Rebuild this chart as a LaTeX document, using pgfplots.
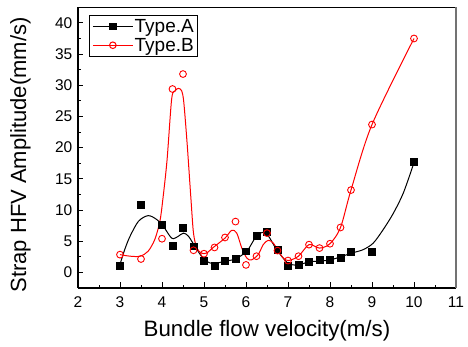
\documentclass[border=0pt]{standalone}
\usepackage{fontspec}
\setmainfont{Liberation Sans}
\usepackage{pgfplots}
\pgfplotsset{compat=1.18}
\begin{document}
\begin{tikzpicture}
\begin{axis}[
  scale only axis,
  width=378bp, height=280.7bp,
  xmin=2, xmax=11, ymin=-2.5, ymax=42.5,
  xtick={2,3,...,11}, ytick={0,5,...,40},
  minor tick num=1,
  axis lines*=left,
  axis line style={line width=1.3bp, black},
  tick align=inside,
  major tick length=5.5bp, minor tick length=3bp,
  every tick/.style={black, line width=0.9bp},
  /pgf/number format/assume math mode=true,
  tick label style={font=\fontsize{15.5bp}{18bp}\selectfont, inner sep=0pt},
  xticklabel style={anchor=north, yshift=-8.5bp},
  yticklabel style={anchor=east, xshift=-5.5bp},
  xlabel={Bundle flow velocity(m/s)},
  ylabel={Strap HFV Amplitude(mm/s)},
  xlabel style={font=\fontsize{22.3bp}{24bp}\selectfont, at={(axis description cs:0.5,-0.1735)}, anchor=base, inner sep=0pt},
  ylabel style={font=\fontsize{22bp}{24bp}\selectfont, at={(axis description cs:-0.152,0.474)}, anchor=center, inner sep=0pt, rotate=0},
  legend image code/.code={\draw[mark repeat=2,mark phase=2] plot coordinates {(0bp,0bp)(20bp,0bp)(40bp,0bp)};},
  legend style={at={(rel axis cs:0.030,0.9726)}, anchor=north west, draw=black, line width=1bp,
    font=\fontsize{19bp}{22bp}\selectfont, inner xsep=2.5bp, inner ysep=2.5bp,
    nodes={inner sep=1.3bp}, row sep=1.5bp},
  legend cell align=left,
  after end axis/.code={
    \draw[black, line width=0.9bp] (rel axis cs:0,1) -- (rel axis cs:1,1);
    \draw[black!55, line width=1.6bp] (rel axis cs:1,0) -- (rel axis cs:1,1);
  },
]
\addlegendimage{black, line width=1bp, mark=square*, mark size=3.3bp, mark options={solid, fill=black}}
\addlegendentry{Type.A}
\addlegendimage{red, line width=1bp, mark=o, mark size=3.3bp, mark options={solid, fill=white}}
\addlegendentry{Type.B}

% Type.A fitted curve (traced)
\addplot[black, line width=1bp, smooth, tension=0.5, forget plot] coordinates {
(3.0,1.3)(3.12,3.8)(3.24,5.8)(3.44,8.2)(3.67,9.1)(3.87,8.5)(4.03,7.4)(4.19,5.8)(4.27,5.4)
(4.39,5.8)(4.51,6.3)(4.63,5.8)(4.79,4.1)(4.94,2.6)(5.06,1.8)(5.22,1.4)(5.5,1.8)(5.74,2.15)
(6.02,3.4)(6.25,5.8)(6.47,6.35)(6.73,3.65)(6.98,1.6)(7.2,1.15)(7.52,1.7)(8.0,2.0)(8.52,3.1)
(8.79,3.65)(9.03,4.7)(9.27,6.9)(9.51,9.5)(9.75,12.8)(10.0,17.6)};
% Type.A data
\addplot[only marks, mark=square*, mark size=3.4bp, black, forget plot] coordinates {
(3.0,1.1)(3.5,10.8)(4.0,7.6)(4.25,4.3)(4.5,7.2)(4.75,4.2)(5.0,1.9)(5.25,1.1)(5.5,1.9)
(5.75,2.15)(6.0,3.4)(6.25,5.9)(6.5,6.5)(6.75,3.65)(7.0,1.1)(7.25,1.2)(7.5,1.7)(7.75,2.0)
(8.0,2.0)(8.25,2.4)(8.5,3.3)(9.0,3.3)(10.0,17.7)};

% Type.B fitted curve (traced)
\addplot[red, line width=1bp, smooth, tension=0.5, forget plot] coordinates {
(3.0,2.85)(3.24,2.6)(3.48,2.6)(3.67,3.4)(3.83,5.3)(3.95,8.2)(4.02,11.7)(4.12,18.0)(4.23,27.8)
(4.31,29.1)(4.39,29.5)(4.47,29.1)(4.52,27.2)(4.6,20.5)(4.69,11.7)(4.75,6.3)(4.83,3.9)
(4.94,3.1)(5.06,3.1)(5.22,4.0)(5.5,5.5)(5.66,6.75)(5.78,6.3)(5.9,3.9)(6.02,2.3)(6.13,2.0)
(6.29,2.85)(6.41,4.45)(6.53,5.15)(6.65,4.7)(6.77,3.4)(6.89,2.3)(7.01,1.9)(7.25,2.6)
(7.5,4.45)(7.75,3.9)(8.0,4.6)(8.25,7.2)(8.5,13.2)(9.0,23.7)(10.0,37.5)};
% Type.B data
\addplot[only marks, mark=o, mark size=3.4bp, red, line width=0.9bp, mark options={fill=white}, forget plot] coordinates {
(3.0,2.85)(3.5,2.15)(4.0,5.4)(4.25,29.4)(4.5,31.8)(4.75,3.55)(5.0,3.0)(5.25,4.0)(5.5,5.6)
(5.75,8.15)(6.0,1.2)(6.25,2.6)(6.5,6.3)(6.75,3.5)(7.0,1.9)(7.25,2.6)(7.5,4.45)(7.75,3.9)
(8.0,4.6)(8.25,7.2)(8.5,13.2)(9.0,23.7)(10.0,37.5)};
\end{axis}
\pgfresetboundingbox
\path[use as bounding box] (-78bp,-59bp) rectangle (390bp,288bp);
\end{tikzpicture}
\end{document}
